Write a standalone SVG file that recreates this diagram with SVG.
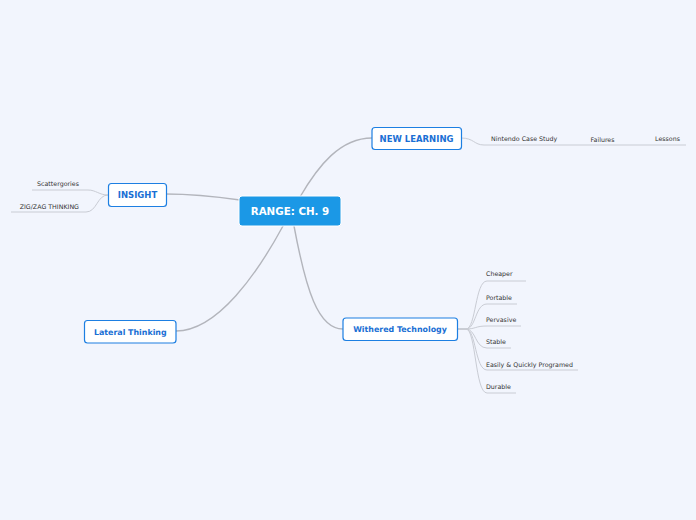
<svg xmlns="http://www.w3.org/2000/svg" width="696" height="520" viewBox="0 0 696 520">
<style>
.bg{fill:#f2f5fd}
.main{fill:none;stroke:#b3b5bc;stroke-width:1.4;stroke-linecap:round}
.sub{fill:none;stroke:#c9ccd4;stroke-width:1}
.box{fill:#ffffff;stroke:#1d7fe2;stroke-width:1.2}
.boxt{font-family:"DejaVu Sans",Verdana,sans-serif;font-weight:bold;font-size:8.5px;fill:#1a6fd4;text-anchor:middle}
.boxm{font-size:7.9px}
.ct{font-family:"DejaVu Sans",Verdana,sans-serif;font-weight:bold;font-size:10.3px;fill:#ffffff;text-anchor:middle}
.st{font-family:"DejaVu Sans",Verdana,sans-serif;font-size:6.3px;fill:#333333}
</style>
<rect class="bg" x="0" y="0" width="696" height="520"/>
<g id="connectors">
<path class="main" d="M300,197 C318,166 340,138 372,138"/>
<path class="main" d="M240,200 C212,196 190,194 166,194"/>
<path class="main" d="M283,226 C258,272 218,331 176,331"/>
<path class="main" d="M294,226 C306,290 318,329 343,329"/>
<path class="sub" d="M461,138 C474,138 474,145 484,145 L686,145"/>
<path class="sub" d="M108,195 C99,195 96,190 88,190 L32,190"/>
<path class="sub" d="M108,195 C97,195 97,212 86,212 L11,212"/>
<path class="sub" d="M458,329 L466,329 C476,329 475,281 487,281 L526,281"/>
<path class="sub" d="M458,329 L466,329 C476,329 475,304 487,304 L517,304"/>
<path class="sub" d="M458,329 L466,329 C476,329 475,326 487,326 L521,326"/>
<path class="sub" d="M458,329 L466,329 C476,329 475,348 487,348 L511,348"/>
<path class="sub" d="M458,329 L466,329 C476,329 475,370 487,370 L578,370"/>
<path class="sub" d="M458,329 L466,329 C476,329 475,393 487,393 L516,393"/>
</g>
<g id="center">
<rect x="239" y="196" width="102" height="30" rx="3" fill="#1b98e6" stroke="#ffffff" stroke-width="1"/>
<text class="ct" x="290" y="215">RANGE: CH. 9</text>
</g>
<g id="new-learning">
<rect class="box" x="372" y="127.5" width="89.5" height="22" rx="3"/>
<text class="boxt" x="416.5" y="141.5">NEW LEARNING</text>
</g>
<g id="nintendo"><text class="st" x="491" y="141">Nintendo Case Study</text></g>
<g id="failures"><text class="st" x="590.5" y="141.5">Failures</text></g>
<g id="lessons"><text class="st" x="655" y="141">Lessons</text></g>
<g id="insight">
<rect class="box" x="108.5" y="183.5" width="58" height="23" rx="3"/>
<text class="boxt" x="137.5" y="198">INSIGHT</text>
</g>
<g id="scattergories"><text class="st" x="79" y="186" text-anchor="end">Scattergories</text></g>
<g id="zigzag"><text class="st" x="79" y="208.5" text-anchor="end">ZIG/ZAG THINKING</text></g>
<g id="lateral">
<rect class="box" x="84.5" y="320.5" width="91.5" height="22.5" rx="3"/>
<text class="boxt boxm" x="130.3" y="335">Lateral Thinking</text>
</g>
<g id="withered">
<rect class="box" x="343" y="318" width="114.5" height="22.5" rx="3"/>
<text class="boxt boxm" x="400" y="332.3">Withered Technology</text>
</g>
<g id="cheaper"><text class="st" x="486" y="276">Cheaper</text></g>
<g id="portable"><text class="st" x="486" y="300">Portable</text></g>
<g id="pervasive"><text class="st" x="486" y="322">Pervasive</text></g>
<g id="stable"><text class="st" x="486" y="344">Stable</text></g>
<g id="easily"><text class="st" x="486" y="366.5">Easily &amp; Quickly Programed</text></g>
<g id="durable"><text class="st" x="486" y="389">Durable</text></g>
</svg>
